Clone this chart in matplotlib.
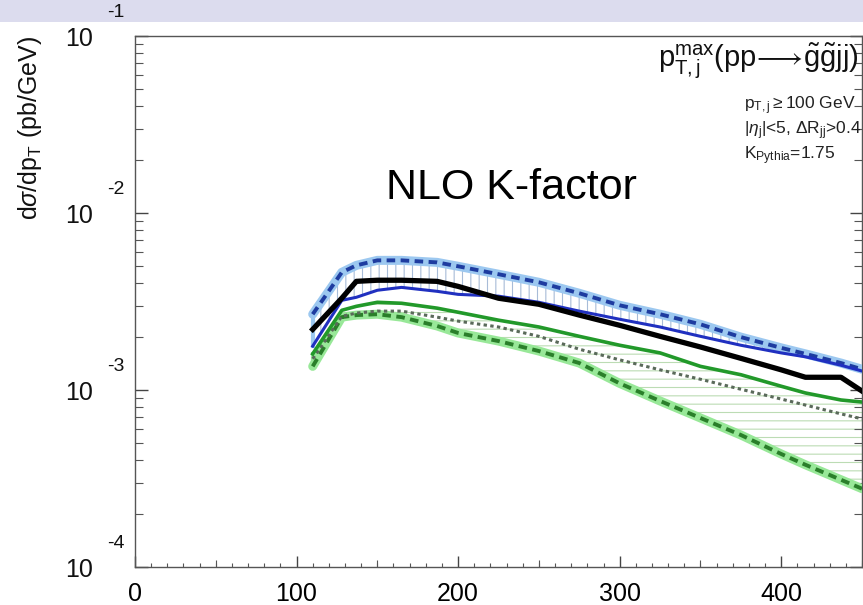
import numpy as np
import matplotlib
matplotlib.use('Agg')
import matplotlib.pyplot as plt
from matplotlib.patches import Rectangle
from matplotlib.transforms import offset_copy

##Fonts
plt.rcParams['font.family'] = ['Liberation Sans', 'DejaVu Sans']
plt.rcParams['mathtext.fontset'] = 'custom'
plt.rcParams['mathtext.rm'] = 'Liberation Sans'
plt.rcParams['mathtext.it'] = 'Liberation Sans:italic'
plt.rcParams['hatch.linewidth'] = 0.8

##Data (pT in GeV, dsigma/dpT in pb/GeV)
pt = [110, 128, 137, 150, 165, 187, 200, 225, 250, 275, 300, 325, 350, 375, 400, 415, 437, 450]

blue_upper = [2.68e-3, 4.62e-3, 5.06e-3, 5.40e-3, 5.40e-3, 5.26e-3, 5.00e-3, 4.51e-3, 4.06e-3,
              3.52e-3, 3.01e-3, 2.68e-3, 2.35e-3, 1.99e-3, 1.73e-3, 1.60e-3, 1.42e-3, 1.31e-3]
blue_central = [1.77e-3, 3.21e-3, 3.34e-3, 3.66e-3, 3.80e-3, 3.61e-3, 3.47e-3, 3.39e-3, 3.13e-3,
                2.79e-3, 2.51e-3, 2.27e-3, 2.01e-3, 1.79e-3, 1.62e-3, 1.54e-3, 1.38e-3, 1.28e-3]
black = [2.20e-3, 3.30e-3, 4.11e-3, 4.17e-3, 4.17e-3, 4.11e-3, 3.85e-3, 3.30e-3, 3.05e-3,
         2.65e-3, 2.32e-3, 2.01e-3, 1.75e-3, 1.51e-3, 1.30e-3, 1.18e-3, 1.18e-3, 0.986e-3]
green_central = [1.60e-3, 2.82e-3, 2.97e-3, 3.13e-3, 3.09e-3, 2.90e-3, 2.75e-3, 2.48e-3, 2.27e-3,
                 2.01e-3, 1.79e-3, 1.62e-3, 1.36e-3, 1.22e-3, 1.05e-3, 0.962e-3, 0.878e-3, 0.855e-3]
gray_dotted = [1.50e-3, 2.61e-3, 2.72e-3, 2.79e-3, 2.79e-3, 2.58e-3, 2.45e-3, 2.27e-3, 2.01e-3,
               1.70e-3, 1.48e-3, 1.30e-3, 1.15e-3, 1.01e-3, 0.889e-3, 0.822e-3, 0.733e-3, 0.687e-3]
green_lower = [1.36e-3, 2.58e-3, 2.65e-3, 2.68e-3, 2.58e-3, 2.30e-3, 2.10e-3, 1.89e-3, 1.66e-3,
               1.42e-3, 1.09e-3, 0.867e-3, 0.695e-3, 0.557e-3, 0.435e-3, 0.378e-3, 0.311e-3, 0.277e-3]

xticks = [0, 100, 200, 300, 400]
ydecades = [1e-4, 1e-3, 1e-2, 1e-1]
yexp = ['-4', '-3', '-2', '-1']

##Figure
fig = plt.figure(figsize=(8.63, 6.05), dpi=100)
fig.patches.append(Rectangle((0, 1 - 22/605.), 1, 22/605., transform=fig.transFigure,
                             facecolor='#dcdcee', edgecolor='none', zorder=-5))
ax = fig.add_axes([135/863., 1 - 567/605., 727/863., 531/605.])
ax.set_yscale('log')
ax.set_xlim(0, 450)
ax.set_ylim(1e-4, 1e-1)

##Bands
ax.fill_between(pt, blue_central, blue_upper, facecolor='none', edgecolor='#a8bcd8',
                hatch='||', linewidth=0, zorder=1)
ax.fill_between(pt, green_lower, green_central, facecolor='none', edgecolor='#bcdcb4',
                hatch='--', linewidth=0, zorder=1)
ax.plot([pt[0], pt[0]], [blue_central[0], blue_upper[0]], color='#9cc8f0', lw=3, zorder=2)
ax.plot([pt[0], pt[0]], [green_lower[0], green_central[0]], color='#98e898', lw=3, zorder=2)

##Curves
ax.plot(pt, blue_upper, color='#9cc8f0', lw=6.5, solid_capstyle='round', zorder=3)
ax.plot(pt, blue_upper, color='#1e3ca0', lw=2.8, ls=(0, (2.2, 1.4)), zorder=4)
ax.plot(pt, blue_central, color='#2030c0', lw=2.2, zorder=4)
ax.plot(pt, green_lower, color='#98e898', lw=6.5, solid_capstyle='round', zorder=3)
ax.plot(pt, green_lower, color='#2a7f2a', lw=2.8, ls=(0, (2.2, 1.4)), zorder=4)
ax.plot(pt, gray_dotted, color='#5a6a5a', lw=2.2, ls=(0, (1.1, 1.1)), zorder=4)
ax.plot(pt, green_central, color='#22992a', lw=2.6, zorder=4)
ax.plot(pt, black, color='black', lw=3.8, zorder=5)

##Axes styling
for sp in ax.spines.values():
    sp.set_color('#555555')
    sp.set_linewidth(1.0)
ax.set_xticks(xticks)
ax.set_xticks(np.arange(0, 451, 10), minor=True)
ax.tick_params(axis='x', which='major', direction='in', length=8, width=1, color='#444444',
               labelsize=18, pad=11, top=False)
ax.tick_params(axis='x', which='minor', direction='in', length=3, width=0.8, color='#555555', top=False)
ax.tick_params(axis='y', which='major', direction='in', length=9, width=1, color='#444444',
               left=True, right=True, labelleft=False)
ax.tick_params(axis='y', which='minor', direction='in', length=6, width=0.8, color='#555555',
               left=True, right=True)
sec = ax.secondary_xaxis('bottom')
sec.set_xticks([50, 150, 250, 350, 450])
sec.set_xticklabels([])
sec.tick_params(direction='in', length=5, width=0.8, color='#555555')
sec.spines['bottom'].set_visible(False)

##Y tick labels in the ROOT style
ytrans = ax.get_yaxis_transform()
base_trans = offset_copy(ytrans, fig=fig, x=0, y=-2, units='points')
exp_trans = offset_copy(ytrans, fig=fig, x=0, y=17, units='points')
for val, ex in zip(ydecades, yexp):
    ax.text(-0.058, val, '10', transform=base_trans, ha='right', va='center', fontsize=18,
            color='#111111', clip_on=False)
    ax.text(-0.039, val, ex, transform=exp_trans, ha='left', va='center', fontsize=14,
            color='#111111', clip_on=False, zorder=10)

fig.text(30/863., 1 - 128/605., r'd$\sigma$/dp$_\mathrm{T}$ (pb/GeV)', rotation=90,
         ha='center', va='center', fontsize=18, color='#111111')

##Annotations
ax.text(233, 10**(-1 - 152/177.), 'NLO K-factor', ha='center', va='center', fontsize=31)
ax.text(0.995, 0.99,
        r'$\mathrm{p}^{\mathrm{max}}_{\mathrm{T,j}}\mathrm{(pp}\!\longrightarrow\!\mathrm{\tilde{g}\tilde{g}jj)}$',
        transform=ax.transAxes, ha='right', va='top', fontsize=21, color='#111111')
ax.text(0.838, 0.89, r'$\mathrm{p}_{\mathrm{T,j}}$$\geq$100 GeV' + '\n'
        + r'$|\eta_\mathrm{j}|$<5, $\Delta\mathrm{R}_{\mathrm{jj}}$>0.4' + '\n'
        + r'$\mathrm{K}_{\mathrm{Pythia}}$=1.75',
        transform=ax.transAxes, ha='left', va='top', fontsize=12.5, color='#222222',
        linespacing=1.15)

fig.savefig('out.png', dpi=100)
